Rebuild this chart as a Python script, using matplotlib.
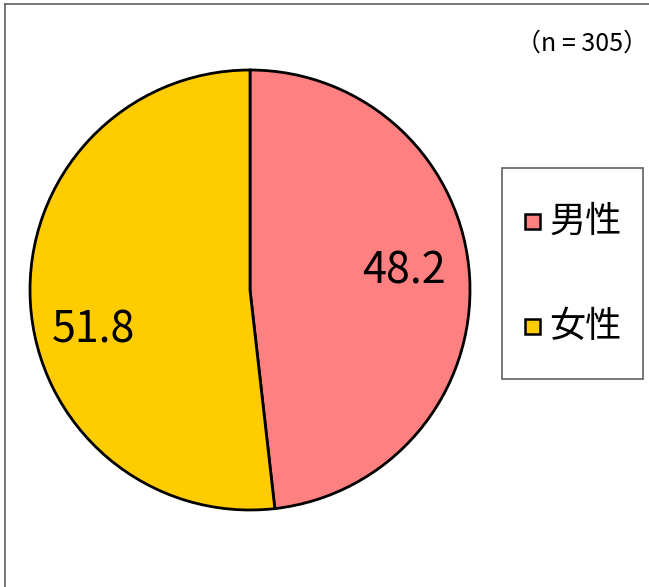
import matplotlib.pyplot as plt
from matplotlib.patches import Rectangle
from matplotlib.lines import Line2D

plt.rcParams['font.family'] = ['Noto Sans CJK JP', 'DejaVu Sans']

# data
labels = ['男性', '女性']
values = [48.2, 51.8]
colors = ['#FF8080', '#FFCC00']
n_total = 305

W, H = 649, 587
fig = plt.figure(figsize=(W / 100, H / 100), dpi=100)


def fx(px):
    return px / W


def fy(py):
    return 1 - py / H


# frame of the chart area (only left and top edges are visible)
fig.add_artist(Line2D([fx(4.5), fx(4.5)], [0, fy(3.5)], transform=fig.transFigure,
                      color='#606060', lw=1.2))
fig.add_artist(Line2D([fx(4.5), 1], [fy(3.5), fy(3.5)], transform=fig.transFigure,
                      color='#606060', lw=1.2))

# pie axes: centre (250, 290), radius 220 px
ax = fig.add_axes([fx(30), fy(510), 440 / W, 440 / H])
wedges, texts, autotexts = ax.pie(
    values, colors=colors, startangle=90, counterclock=False,
    autopct=lambda p: '', pctdistance=0.72,
    wedgeprops=dict(edgecolor='black', linewidth=2))
for v, t in zip(values, autotexts):
    t.set_text(f'{v:.1f}')
    t.set_fontsize(31)
# nudge labels to where the original has them
autotexts[0].set_position((0.70, 0.085))
autotexts[1].set_position((-0.71, -0.185))
ax.set_xlim(-1, 1)
ax.set_ylim(-1, 1)
ax.set_aspect('equal')

fig.text(fx(648), fy(44), f'（n = {n_total}）', ha='right', va='center', fontsize=18)

# legend, drawn by hand to match the box of the original
fig.add_artist(Rectangle((fx(502), fy(379)), fx(141), 211 / H, transform=fig.transFigure,
                         facecolor='white', edgecolor='#606060', lw=1.2))
for i, (lab, c) in enumerate(zip(labels, colors)):
    yc = 221.5 + i * 105
    fig.add_artist(Rectangle((fx(524.5), fy(yc + 7.5)), fx(15), 15 / H,
                             transform=fig.transFigure, facecolor=c,
                             edgecolor='black', lw=1.8))
    fig.text(fx(549.5), fy(yc), lab, ha='left', va='center', fontsize=26)

fig.savefig('out.png', dpi=100)
